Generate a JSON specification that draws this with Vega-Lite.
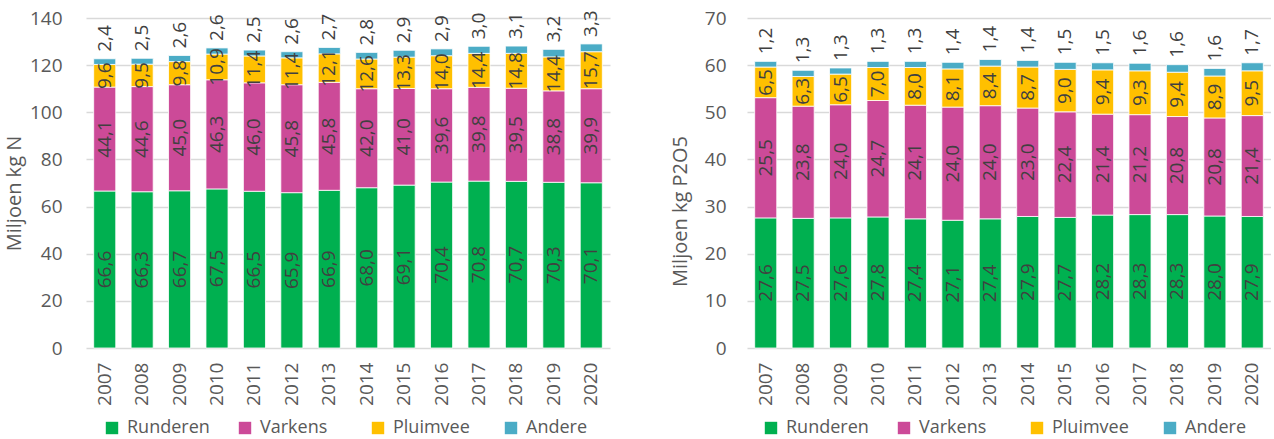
{
  "$schema": "https://vega.github.io/schema/vega-lite/v6.json",
  "padding": {"left": 4, "top": 9, "right": 0, "bottom": 0},
  "bounds": "flush",
  "spacing": 137,
  "datasets": {
    "stikstof": [
      {"jaar": "2007", "soort": "Runderen", "waarde": 66.6},
      {"jaar": "2008", "soort": "Runderen", "waarde": 66.3},
      {"jaar": "2009", "soort": "Runderen", "waarde": 66.7},
      {"jaar": "2010", "soort": "Runderen", "waarde": 67.5},
      {"jaar": "2011", "soort": "Runderen", "waarde": 66.5},
      {"jaar": "2012", "soort": "Runderen", "waarde": 65.9},
      {"jaar": "2013", "soort": "Runderen", "waarde": 66.9},
      {"jaar": "2014", "soort": "Runderen", "waarde": 68.0},
      {"jaar": "2015", "soort": "Runderen", "waarde": 69.1},
      {"jaar": "2016", "soort": "Runderen", "waarde": 70.4},
      {"jaar": "2017", "soort": "Runderen", "waarde": 70.8},
      {"jaar": "2018", "soort": "Runderen", "waarde": 70.7},
      {"jaar": "2019", "soort": "Runderen", "waarde": 70.3},
      {"jaar": "2020", "soort": "Runderen", "waarde": 70.1},
      {"jaar": "2007", "soort": "Varkens", "waarde": 44.1},
      {"jaar": "2008", "soort": "Varkens", "waarde": 44.6},
      {"jaar": "2009", "soort": "Varkens", "waarde": 45.0},
      {"jaar": "2010", "soort": "Varkens", "waarde": 46.3},
      {"jaar": "2011", "soort": "Varkens", "waarde": 46.0},
      {"jaar": "2012", "soort": "Varkens", "waarde": 45.8},
      {"jaar": "2013", "soort": "Varkens", "waarde": 45.8},
      {"jaar": "2014", "soort": "Varkens", "waarde": 42.0},
      {"jaar": "2015", "soort": "Varkens", "waarde": 41.0},
      {"jaar": "2016", "soort": "Varkens", "waarde": 39.6},
      {"jaar": "2017", "soort": "Varkens", "waarde": 39.8},
      {"jaar": "2018", "soort": "Varkens", "waarde": 39.5},
      {"jaar": "2019", "soort": "Varkens", "waarde": 38.8},
      {"jaar": "2020", "soort": "Varkens", "waarde": 39.9},
      {"jaar": "2007", "soort": "Pluimvee", "waarde": 9.6},
      {"jaar": "2008", "soort": "Pluimvee", "waarde": 9.5},
      {"jaar": "2009", "soort": "Pluimvee", "waarde": 9.8},
      {"jaar": "2010", "soort": "Pluimvee", "waarde": 10.9},
      {"jaar": "2011", "soort": "Pluimvee", "waarde": 11.4},
      {"jaar": "2012", "soort": "Pluimvee", "waarde": 11.4},
      {"jaar": "2013", "soort": "Pluimvee", "waarde": 12.1},
      {"jaar": "2014", "soort": "Pluimvee", "waarde": 12.6},
      {"jaar": "2015", "soort": "Pluimvee", "waarde": 13.3},
      {"jaar": "2016", "soort": "Pluimvee", "waarde": 14.0},
      {"jaar": "2017", "soort": "Pluimvee", "waarde": 14.4},
      {"jaar": "2018", "soort": "Pluimvee", "waarde": 14.8},
      {"jaar": "2019", "soort": "Pluimvee", "waarde": 14.4},
      {"jaar": "2020", "soort": "Pluimvee", "waarde": 15.7},
      {"jaar": "2007", "soort": "Andere", "waarde": 2.4},
      {"jaar": "2008", "soort": "Andere", "waarde": 2.5},
      {"jaar": "2009", "soort": "Andere", "waarde": 2.6},
      {"jaar": "2010", "soort": "Andere", "waarde": 2.6},
      {"jaar": "2011", "soort": "Andere", "waarde": 2.5},
      {"jaar": "2012", "soort": "Andere", "waarde": 2.6},
      {"jaar": "2013", "soort": "Andere", "waarde": 2.7},
      {"jaar": "2014", "soort": "Andere", "waarde": 2.8},
      {"jaar": "2015", "soort": "Andere", "waarde": 2.9},
      {"jaar": "2016", "soort": "Andere", "waarde": 2.9},
      {"jaar": "2017", "soort": "Andere", "waarde": 3.0},
      {"jaar": "2018", "soort": "Andere", "waarde": 3.1},
      {"jaar": "2019", "soort": "Andere", "waarde": 3.2},
      {"jaar": "2020", "soort": "Andere", "waarde": 3.3}
    ],
    "fosfaat": [
      {"jaar": "2007", "soort": "Runderen", "waarde": 27.6},
      {"jaar": "2008", "soort": "Runderen", "waarde": 27.5},
      {"jaar": "2009", "soort": "Runderen", "waarde": 27.6},
      {"jaar": "2010", "soort": "Runderen", "waarde": 27.8},
      {"jaar": "2011", "soort": "Runderen", "waarde": 27.4},
      {"jaar": "2012", "soort": "Runderen", "waarde": 27.1},
      {"jaar": "2013", "soort": "Runderen", "waarde": 27.4},
      {"jaar": "2014", "soort": "Runderen", "waarde": 27.9},
      {"jaar": "2015", "soort": "Runderen", "waarde": 27.7},
      {"jaar": "2016", "soort": "Runderen", "waarde": 28.2},
      {"jaar": "2017", "soort": "Runderen", "waarde": 28.3},
      {"jaar": "2018", "soort": "Runderen", "waarde": 28.3},
      {"jaar": "2019", "soort": "Runderen", "waarde": 28.0},
      {"jaar": "2020", "soort": "Runderen", "waarde": 27.9},
      {"jaar": "2007", "soort": "Varkens", "waarde": 25.5},
      {"jaar": "2008", "soort": "Varkens", "waarde": 23.8},
      {"jaar": "2009", "soort": "Varkens", "waarde": 24.0},
      {"jaar": "2010", "soort": "Varkens", "waarde": 24.7},
      {"jaar": "2011", "soort": "Varkens", "waarde": 24.1},
      {"jaar": "2012", "soort": "Varkens", "waarde": 24.0},
      {"jaar": "2013", "soort": "Varkens", "waarde": 24.0},
      {"jaar": "2014", "soort": "Varkens", "waarde": 23.0},
      {"jaar": "2015", "soort": "Varkens", "waarde": 22.4},
      {"jaar": "2016", "soort": "Varkens", "waarde": 21.4},
      {"jaar": "2017", "soort": "Varkens", "waarde": 21.2},
      {"jaar": "2018", "soort": "Varkens", "waarde": 20.8},
      {"jaar": "2019", "soort": "Varkens", "waarde": 20.8},
      {"jaar": "2020", "soort": "Varkens", "waarde": 21.4},
      {"jaar": "2007", "soort": "Pluimvee", "waarde": 6.5},
      {"jaar": "2008", "soort": "Pluimvee", "waarde": 6.3},
      {"jaar": "2009", "soort": "Pluimvee", "waarde": 6.5},
      {"jaar": "2010", "soort": "Pluimvee", "waarde": 7.0},
      {"jaar": "2011", "soort": "Pluimvee", "waarde": 8.0},
      {"jaar": "2012", "soort": "Pluimvee", "waarde": 8.1},
      {"jaar": "2013", "soort": "Pluimvee", "waarde": 8.4},
      {"jaar": "2014", "soort": "Pluimvee", "waarde": 8.7},
      {"jaar": "2015", "soort": "Pluimvee", "waarde": 9.0},
      {"jaar": "2016", "soort": "Pluimvee", "waarde": 9.4},
      {"jaar": "2017", "soort": "Pluimvee", "waarde": 9.3},
      {"jaar": "2018", "soort": "Pluimvee", "waarde": 9.4},
      {"jaar": "2019", "soort": "Pluimvee", "waarde": 8.9},
      {"jaar": "2020", "soort": "Pluimvee", "waarde": 9.5},
      {"jaar": "2007", "soort": "Andere", "waarde": 1.2},
      {"jaar": "2008", "soort": "Andere", "waarde": 1.3},
      {"jaar": "2009", "soort": "Andere", "waarde": 1.3},
      {"jaar": "2010", "soort": "Andere", "waarde": 1.3},
      {"jaar": "2011", "soort": "Andere", "waarde": 1.3},
      {"jaar": "2012", "soort": "Andere", "waarde": 1.4},
      {"jaar": "2013", "soort": "Andere", "waarde": 1.4},
      {"jaar": "2014", "soort": "Andere", "waarde": 1.4},
      {"jaar": "2015", "soort": "Andere", "waarde": 1.5},
      {"jaar": "2016", "soort": "Andere", "waarde": 1.5},
      {"jaar": "2017", "soort": "Andere", "waarde": 1.6},
      {"jaar": "2018", "soort": "Andere", "waarde": 1.6},
      {"jaar": "2019", "soort": "Andere", "waarde": 1.6},
      {"jaar": "2020", "soort": "Andere", "waarde": 1.7}
    ]
  },
  "hconcat": [
    {
      "width": 524,
      "height": 330,
      "data": {"name": "stikstof"},
      "transform": [
        {"stack": "waarde", "groupby": ["jaar"], "as": ["onder", "boven"]},
        {"calculate": "(datum.onder + datum.boven) / 2", "as": "midden"}
      ],
      "encoding": {
        "x": {
          "field": "jaar", "type": "ordinal", "title": null,
          "scale": {"paddingInner": 0.41, "paddingOuter": 0.205},
          "axis": {"labelAngle": 270, "labelPadding": 14, "ticks": false, "domain": false}
        }
      },
      "layer": [
        {
          "mark": {"type": "bar", "stroke": "white", "strokeWidth": 0.8},
          "encoding": {
            "y": {
              "field": "onder", "type": "quantitative", "title": "Miljoen kg N",
              "scale": {"domain": [0, 140], "nice": false},
              "axis": {"values": [0, 20, 40, 60, 80, 100, 120, 140], "labelPadding": 24, "titlePadding": 5, "titleY": 175}
            },
            "y2": {"field": "boven"},
            "color": {
              "field": "soort", "type": "nominal", "title": null,
              "scale": {"domain": ["Runderen", "Varkens", "Pluimvee", "Andere"], "range": ["#00B050", "#CC4A98", "#FFC000", "#4BACC6"]},
              "legend": {"orient": "none", "direction": "horizontal", "legendX": 17, "legendY": 401}
            }
          }
        },
        {
          "transform": [{"filter": "datum.soort !== 'Andere'"}],
          "mark": {"type": "text", "angle": 270, "align": "center", "baseline": "middle"},
          "encoding": {
            "y": {"field": "midden", "type": "quantitative"},
            "text": {"field": "waarde", "type": "quantitative", "format": ".1f"}
          }
        },
        {
          "transform": [{"filter": "datum.soort === 'Andere'"}],
          "mark": {"type": "text", "angle": 270, "align": "left", "baseline": "middle", "dx": 7},
          "encoding": {
            "y": {"field": "boven", "type": "quantitative"},
            "text": {"field": "waarde", "type": "quantitative", "format": ".1f"}
          }
        }
      ]
    },
    {
      "width": 524,
      "height": 330,
      "data": {"name": "fosfaat"},
      "transform": [
        {"stack": "waarde", "groupby": ["jaar"], "as": ["onder", "boven"]},
        {"calculate": "(datum.onder + datum.boven) / 2", "as": "midden"}
      ],
      "encoding": {
        "x": {
          "field": "jaar", "type": "ordinal", "title": null,
          "scale": {"paddingInner": 0.41, "paddingOuter": 0.205},
          "axis": {"labelAngle": 270, "labelPadding": 14, "ticks": false, "domain": false}
        }
      },
      "layer": [
        {
          "mark": {"type": "bar", "stroke": "white", "strokeWidth": 0.8},
          "encoding": {
            "y": {
              "field": "onder", "type": "quantitative", "title": "Miljoen kg P2O5",
              "scale": {"domain": [0, 70], "nice": false},
              "axis": {"values": [0, 10, 20, 30, 40, 50, 60, 70], "labelPadding": 21, "titlePadding": 14, "titleY": 193}
            },
            "y2": {"field": "boven"},
            "color": {
              "field": "soort", "type": "nominal", "title": null,
              "scale": {"domain": ["Runderen", "Varkens", "Pluimvee", "Andere"], "range": ["#00B050", "#CC4A98", "#FFC000", "#4BACC6"]},
              "legend": {"orient": "none", "direction": "horizontal", "legendX": 15, "legendY": 401}
            }
          }
        },
        {
          "transform": [{"filter": "datum.soort !== 'Andere'"}],
          "mark": {"type": "text", "angle": 270, "align": "center", "baseline": "middle"},
          "encoding": {
            "y": {"field": "midden", "type": "quantitative"},
            "text": {"field": "waarde", "type": "quantitative", "format": ".1f"}
          }
        },
        {
          "transform": [{"filter": "datum.soort === 'Andere'"}],
          "mark": {"type": "text", "angle": 270, "align": "left", "baseline": "middle", "dx": 7},
          "encoding": {
            "y": {"field": "boven", "type": "quantitative"},
            "text": {"field": "waarde", "type": "quantitative", "format": ".1f"}
          }
        }
      ]
    }
  ],
  "resolve": {"legend": {"color": "independent"}},
  "config": {
    "locale": {"number": {"decimal": ",", "thousands": ".", "grouping": [3], "currency": ["€", ""]}},
    "font": "Open Sans",
    "view": {"stroke": null},
    "text": {"font": "Open Sans", "fontSize": 19, "color": "#404040"},
    "axis": {
      "labelFont": "Open Sans", "labelFontSize": 19, "labelColor": "#595959",
      "titleFont": "Open Sans", "titleFontSize": 20, "titleFontWeight": "normal", "titleColor": "#595959",
      "gridColor": "#D9D9D9", "gridWidth": 1.5
    },
    "axisY": {"domain": false, "ticks": false},
    "legend": {
      "labelFont": "Open Sans", "labelFontSize": 18, "labelColor": "#595959",
      "symbolType": "square", "symbolSize": 154, "symbolStrokeWidth": 0, "symbolOpacity": 1,
      "columnPadding": 26, "gridAlign": "all", "labelOffset": 6, "padding": 0
    }
  }
}
